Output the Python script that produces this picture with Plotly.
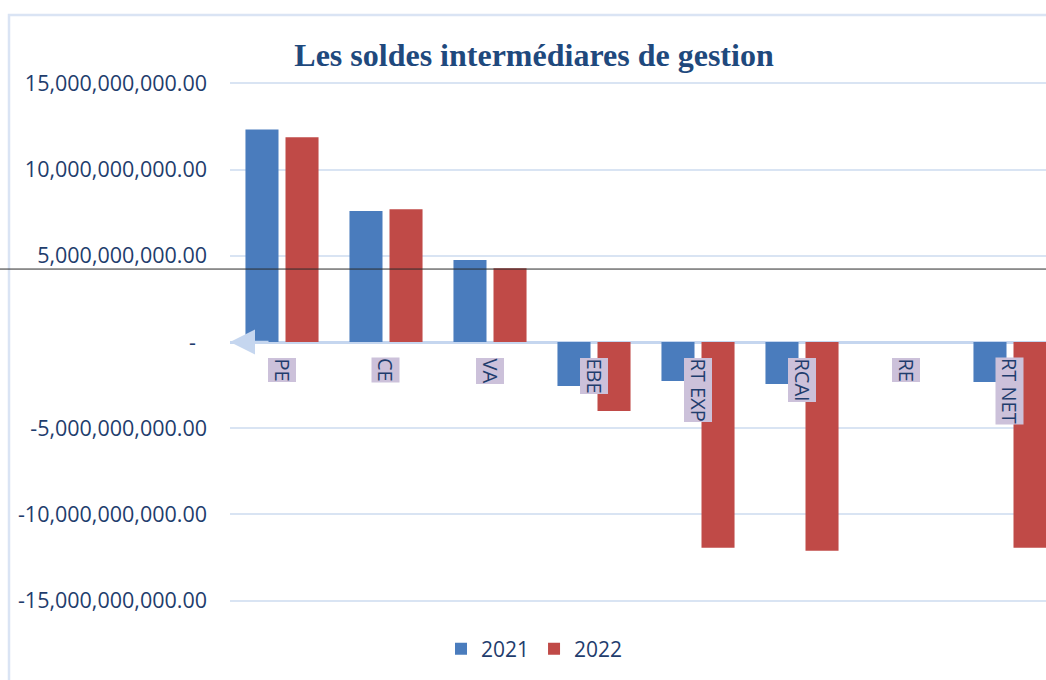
import plotly.graph_objects as go

categories = ["PE", "CE", "VA", "EBE", "RT EXP", "RCAI", "RE", "RT NET"]
values_2021 = [12.33e9, 7.59e9, 4.75e9, -2.55e9, -2.26e9, -2.43e9, 0, -2.32e9]
values_2022 = [11.87e9, 7.70e9, 4.28e9, -4.00e9, -11.93e9, -12.10e9, 0, -11.93e9]
series_names = ["2021", "2022"]
tick_values = [15e9, 10e9, 5e9, 0, -5e9, -10e9, -15e9]
tick_labels = ["15,000,000,000.00", "10,000,000,000.00", "5,000,000,000.00",
               "-\u00a0\u00a0", "-5,000,000,000.00", "-10,000,000,000.00",
               "-15,000,000,000.00"]
title_text = "Les soldes intermédiares de gestion"
stray_line_level = 4.23e9

W, H = 1046, 680
plot_left, plot_right = 230, 1046
y_top_px, y_bot_px = 48, 636
plot_w = plot_right - plot_left
plot_h = y_bot_px - y_top_px

def px_x(px):
    return (px - plot_left) / plot_w

def px_y(py):
    return (y_bot_px - py) / plot_h

TXT = "#1f3d6d"
FONT = "Open Sans"

fig = go.Figure()
fig.add_trace(go.Bar(x=categories, y=values_2021, name=series_names[0],
                     marker=dict(color="#4a7cbd", line=dict(width=0))))
fig.add_trace(go.Bar(x=categories, y=values_2022, name=series_names[1],
                     marker=dict(color="#c04a47", line=dict(width=0))))

# category labels (rotated, boxed) next to the zero axis
for c in categories:
    fig.add_annotation(x=c, y=0, xref="x", yref="y", text=c, showarrow=False,
                       textangle=90, yanchor="top", yshift=-15,
                       font=dict(family=FONT, size=20, color=TXT),
                       bgcolor="#ccc1da", borderpad=0)

# arrow at left end of the category axis
fig.add_annotation(x=0, y=0, xref="paper", yref="y", ax=40, ay=0, axref="pixel",
                   text="", showarrow=True, arrowhead=2, arrowsize=2,
                   arrowwidth=2.5, arrowcolor="#c5d6ef")

# stray horizontal line
fig.add_shape(type="line", xref="paper", yref="y", x0=px_x(0), x1=1.0,
              y0=stray_line_level, y1=stray_line_level,
              line=dict(color="#2a2a2a", width=1))

# chart border
fig.add_shape(type="rect", xref="paper", yref="paper",
              x0=px_x(9), x1=px_x(1100), y0=px_y(720), y1=px_y(15),
              line=dict(color="#dae4f4", width=2.5), layer="below")

fig.update_layout(
    width=W, height=H,
    margin=dict(l=plot_left, r=W - plot_right, t=y_top_px, b=H - y_bot_px,
                autoexpand=False),
    paper_bgcolor="white", plot_bgcolor="white",
    barmode="group", bargap=0.23, bargroupgap=0.175,
    title=dict(text="<b>" + title_text + "</b>", xref="container", yref="container",
               x=534 / W, y=1 - 55 / H, xanchor="center", yanchor="middle",
               font=dict(family="Liberation Serif", size=32, color="#1f497d")),
    legend=dict(orientation="h", xref="container", yref="container",
                x=0.511, y=1 - 649 / H, xanchor="center", yanchor="middle",
                font=dict(family=FONT, size=21, color=TXT)),
    font=dict(family=FONT, color=TXT),
)
fig.update_xaxes(range=[-0.5, -0.5 + plot_w / 104], showticklabels=False,
                 showgrid=False, zeroline=False, showline=False)
fig.update_yaxes(range=[-17.05e9, 17.05e9], tickvals=tick_values, ticktext=tick_labels,
                 tickfont=dict(family=FONT, size=21.5, color=TXT),
                 showgrid=True, gridcolor="#d9e4f3", gridwidth=1.5,
                 zeroline=True, zerolinecolor="#c5d6ef", zerolinewidth=2.5,
                 ticklabelstandoff=22, showline=False)

fig.write_html("out.html", config={"displayModeBar": False},
               post_script="document.body.style.margin='0';"
                           "document.body.style.overflow='hidden';")
